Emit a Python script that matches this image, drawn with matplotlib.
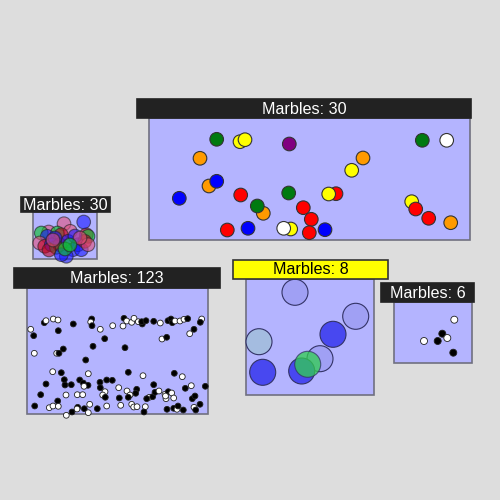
import matplotlib
matplotlib.use("Agg")
import matplotlib.pyplot as plt
from matplotlib.patches import Rectangle, Circle

# ---- data: marble positions (pixels) and colours per box ----
big_x = [216.7, 240.0, 245.0, 289.3, 422.3, 446.7, 200.0, 363.0, 351.7, 209.0,
         216.7, 179.3, 240.7, 288.7, 336.0, 328.7, 263.3, 257.3, 303.3, 311.3,
         411.7, 415.7, 428.7, 450.7, 227.3, 248.0, 290.7, 283.7, 309.3, 325.0]
big_y = [139.3, 141.7, 139.7, 144.0, 140.3, 140.3, 158.3, 158.0, 170.3, 186.0,
         181.3, 198.3, 195.0, 193.0, 193.7, 194.0, 213.3, 206.0, 207.7, 219.3,
         201.7, 209.0, 218.3, 222.7, 230.0, 228.3, 229.0, 228.3, 232.7, 229.7]
big_c = ["green", "yellow", "yellow", "purple", "green", "white", "orange", "orange", "yellow", "orange",
         "blue", "blue", "red", "green", "red", "yellow", "orange", "green", "red", "red",
         "yellow", "red", "red", "orange", "red", "blue", "yellow", "white", "red", "blue"]

small_x = [64.0, 70.3, 86.3, 48.7, 41.3, 88.0, 57.3, 61.3, 47.3, 39.7,
           44.7, 51.3, 56.3, 59.7, 68.0, 73.0, 78.0, 81.3, 84.7, 88.0,
           66.3, 61.3, 75.0, 80.0, 55.0, 49.0, 65.0, 83.7, 53.0, 70.0]
small_y = [223.7, 231.3, 234.7, 232.0, 233.0, 236.3, 233.0, 234.7, 236.3, 243.0,
           246.3, 244.7, 247.3, 244.7, 241.3, 249.7, 244.7, 249.7, 241.3, 244.7,
           256.3, 254.7, 236.0, 238.0, 238.0, 250.0, 249.0, 222.0, 240.0, 245.0]
small_c = ["pink", "pink", "red", "pink", "green", "green", "green", "red", "blue", "pink",
           "red", "blue", "green", "red", "blue", "blue", "blue", "blue", "red", "pink",
           "blue", "blue", "blue", "pink", "blue", "red", "green", "blue", "pink", "green"]

many_x = [30.7, 33.7, 34.3, 44.3, 46.0, 53.3, 58.0, 58.3, 73.3, 91.7,
          90.7, 92.0, 100.3, 112.7, 104.7, 93.0, 63.3, 56.7, 59.0, 85.7,
          52.7, 61.3, 88.3, 64.3, 79.7, 83.3, 88.0, 84.0, 46.0, 65.0,
          71.3, 100.0, 106.7, 112.3, 118.7, 100.3, 105.0, 102.7, 105.3, 40.7,
          66.0, 77.3, 82.7, 57.7, 34.7, 49.3, 53.0, 58.3, 77.7, 77.0,
          84.3, 89.7, 97.3, 106.7, 88.3, 66.3, 124.0, 126.7, 123.0, 131.7,
          134.0, 138.3, 142.3, 141.7, 146.0, 153.7, 160.3, 168.0, 171.0, 172.3,
          175.0, 180.0, 184.0, 187.7, 201.7, 200.3, 194.0, 189.7, 162.0, 166.7,
          125.0, 128.3, 143.0, 174.3, 182.3, 127.0, 136.7, 135.7, 130.0, 128.3,
          119.3, 149.3, 146.7, 152.7, 153.7, 155.0, 159.0, 165.0, 168.3, 171.7,
          166.0, 173.7, 185.3, 191.3, 205.3, 192.3, 195.0, 120.7, 131.7, 133.7,
          137.0, 145.3, 144.0, 167.0, 173.7, 177.0, 183.3, 194.0, 195.7, 200.0,
          165.5, 178.0, 72.0]
many_y = [329.3, 335.7, 353.3, 322.7, 320.7, 319.0, 320.0, 330.7, 324.0, 319.0,
          322.0, 325.7, 329.3, 325.7, 338.7, 346.3, 349.0, 353.3, 353.3, 360.0,
          371.7, 372.7, 373.7, 379.7, 380.0, 383.0, 385.3, 386.3, 384.0, 385.0,
          384.7, 382.3, 380.0, 380.3, 387.7, 387.7, 391.7, 395.0, 397.3, 394.7,
          395.0, 394.7, 394.7, 401.0, 406.0, 407.7, 406.0, 406.3, 407.3, 409.0,
          408.7, 404.3, 408.7, 406.0, 412.7, 415.3, 318.3, 321.0, 326.0, 322.3,
          318.3, 321.7, 324.0, 321.7, 320.7, 321.3, 323.0, 320.7, 319.0, 322.7,
          321.0, 321.0, 319.3, 318.7, 319.0, 322.3, 329.3, 333.7, 339.0, 337.3,
          347.7, 372.3, 375.7, 373.3, 376.7, 391.0, 389.3, 393.3, 395.0, 397.3,
          398.0, 397.3, 398.7, 396.7, 384.7, 392.3, 391.0, 394.3, 391.7, 393.0,
          398.7, 398.0, 388.3, 385.7, 386.3, 398.7, 396.0, 405.3, 404.3, 407.0,
          406.7, 406.7, 412.0, 409.3, 408.3, 409.3, 410.0, 407.3, 410.0, 404.3,
          396.0, 406.0, 412.0]
many_c = ["w", "k", "w", "k", "w", "w", "w", "k", "k", "k",
          "w", "k", "w", "w", "k", "k", "k", "w", "k", "k",
          "w", "k", "w", "k", "k", "k", "k", "w", "k", "k",
          "k", "k", "k", "k", "w", "k", "w", "w", "k", "k",
          "w", "w", "w", "k", "k", "w", "w", "w", "k", "w",
          "k", "w", "k", "w", "w", "w", "k", "w", "w", "w",
          "w", "w", "k", "k", "k", "k", "w", "k", "k", "k",
          "w", "w", "w", "k", "w", "k", "k", "w", "w", "k",
          "k", "k", "w", "k", "w", "w", "k", "k", "w", "k",
          "k", "w", "k", "k", "k", "k", "w", "w", "k", "w",
          "w", "w", "k", "w", "k", "k", "k", "w", "w", "w",
          "w", "w", "k", "k", "k", "w", "k", "w", "k", "k",
          "w", "k", "k"]

eight_x = [295.0, 355.7, 333.0, 259.0, 320.0, 262.7, 301.7, 307.7]
eight_y = [292.3, 316.3, 334.3, 341.7, 358.7, 372.3, 371.0, 364.3]
eight_c = ["#a0a0f4", "#a0a0f4", "#4848f0", "#a4bce0", "#a0a0f4", "#4848f0", "#4848f0", "#30d050"]

six_x = [454.3, 442.3, 447.3, 437.7, 424.0, 453.3]
six_y = [319.7, 333.7, 338.0, 341.0, 341.0, 352.7]
six_c = ["w", "k", "w", "k", "w", "k"]

counts = [len(big_x), len(small_x), len(many_x), len(eight_x), len(six_x)]

# ---- layout: (header x0, x1, y0, y1), (box x0, x1, y0, y1) ----
boxes = [
    ((137, 471, 99, 118), (149, 470, 118, 240)),
    ((21, 110, 197, 212), (33, 97, 212, 259)),
    ((14, 220, 268, 288), (27, 208, 288, 414)),
    ((233, 388, 260, 279), (246, 374, 279, 395)),
    ((381, 474, 283, 302), (394, 472, 302, 363)),
]

palette = {"green": "#007a10", "yellow": "#ffff00", "purple": "#800080", "white": "#ffffff",
           "orange": "#ff9a00", "blue": "#0000ff", "red": "#ff0000"}
small_pal = {"pink": ("#e0507a", 0.6), "red": ("#c00020", 0.6),
             "green": ("#10c030", 0.65), "blue": ("#1818ff", 0.6)}

fig = plt.figure(figsize=(5, 5), dpi=100, facecolor="#dddddd")
ax = fig.add_axes([0, 0, 1, 1])
ax.set_xlim(0, 500)
ax.set_ylim(500, 0)
ax.set_aspect("equal")
ax.axis("off")

for i, (hd, bx) in enumerate(boxes):
    ax.add_patch(Rectangle((bx[0], bx[2]), bx[1] - bx[0], bx[3] - bx[2],
                           facecolor="#b4b4ff", edgecolor="#707080", lw=1.2, zorder=1))
    hl = i == 3
    ax.add_patch(Rectangle((hd[0], hd[2]), hd[1] - hd[0], hd[3] - hd[2],
                           facecolor="#ffff00" if hl else "#222222",
                           edgecolor="#333333" if hl else "#222222", lw=1.2, zorder=5))
    ax.text((hd[0] + hd[1]) / 2, (hd[2] + hd[3]) / 2 + 0.5, f"Marbles: {counts[i]}",
            ha="center", va="center", fontsize=11.6, family="Liberation Sans",
            color="black" if hl else "white", zorder=6)

for x, y, c in zip(big_x, big_y, big_c):
    ax.add_patch(Circle((x, y), 6.8, facecolor=palette[c], edgecolor="#333333", lw=0.8, zorder=2))

for x, y, c in zip(small_x, small_y, small_c):
    col, a = small_pal[c]
    ax.add_patch(Circle((x, y), 6.8, facecolor=col, alpha=a, edgecolor="#222222", lw=0.8, zorder=2))

for x, y, c in zip(many_x, many_y, many_c):
    ax.add_patch(Circle((x, y), 2.9, facecolor="black" if c == "k" else "white",
                        edgecolor="#222222", lw=0.6, zorder=2))

for x, y, c in zip(eight_x, eight_y, eight_c):
    a = 0.75 if c == "#30d050" else 1.0
    ax.add_patch(Circle((x, y), 13, facecolor=c, alpha=a, edgecolor="#333366", lw=0.8, zorder=2))

for x, y, c in zip(six_x, six_y, six_c):
    ax.add_patch(Circle((x, y), 3.5, facecolor="black" if c == "k" else "white",
                        edgecolor="#222222", lw=0.6, zorder=2))

fig.savefig("out.png", dpi=100, facecolor=fig.get_facecolor())
